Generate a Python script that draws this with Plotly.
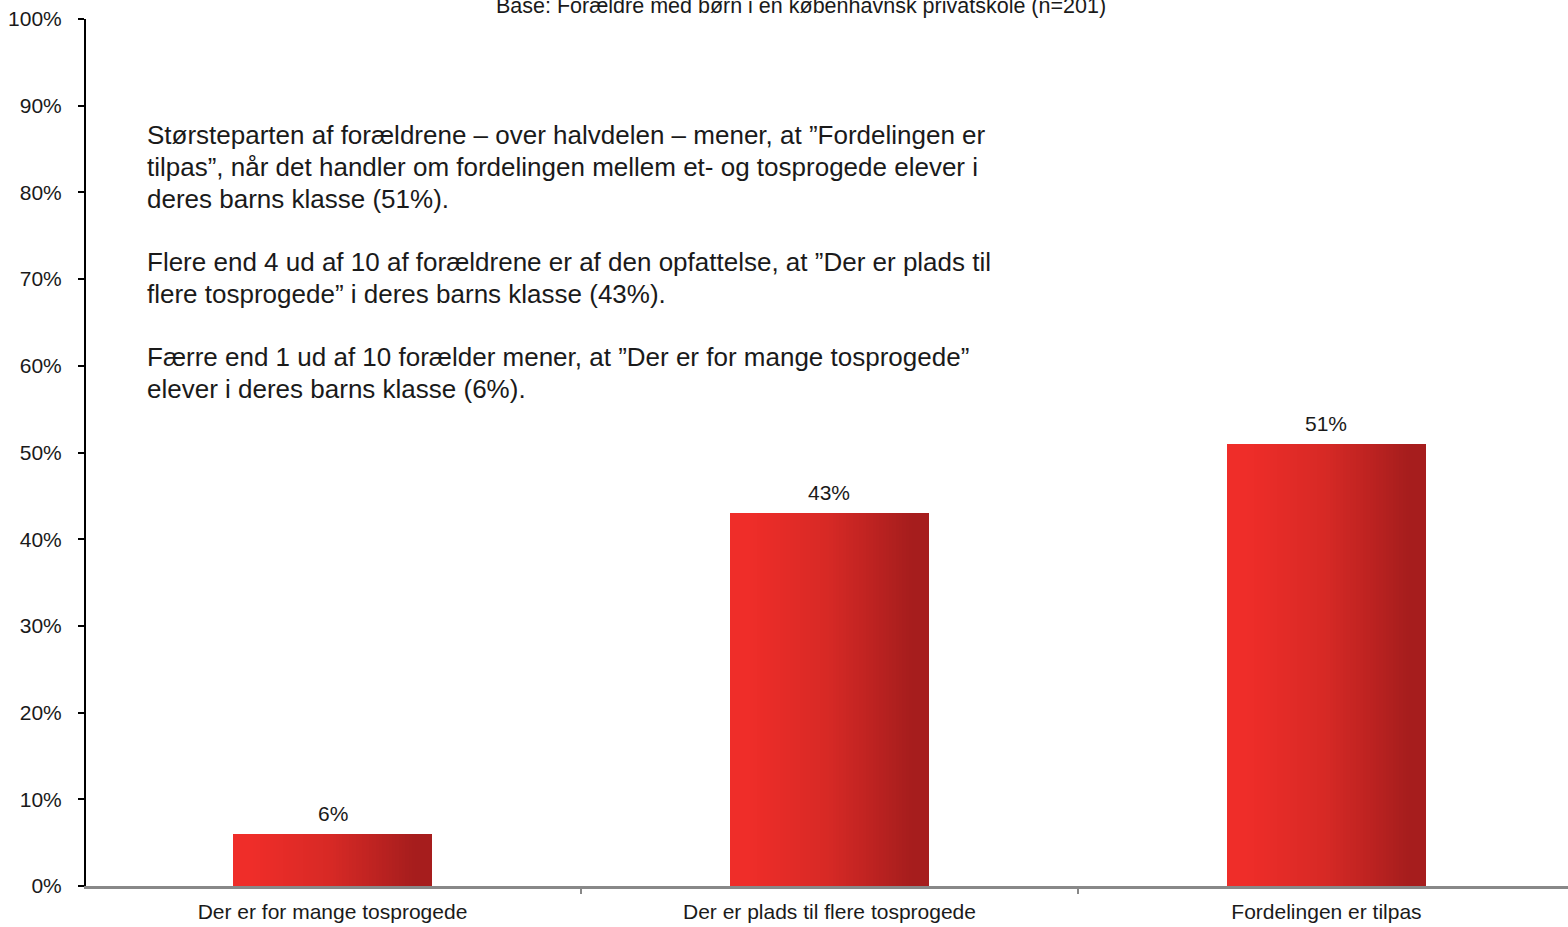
import plotly.graph_objects as go

categories = ["Der er for mange tosprogede", "Der er plads til flere tosprogede", "Fordelingen er tilpas"]
values = [6, 43, 51]
labels = ["6%", "43%", "51%"]
y_ticks = list(range(0, 101, 10))
y_tick_labels = [f"{v}%" for v in y_ticks]
title_text = "Base: Forældre med børn i en københavnsk privatskole (n=201)"
note_lines = [
    "Størsteparten af forældrene – over halvdelen – mener, at ”Fordelingen er",
    "tilpas”, når det handler om fordelingen mellem et- og tosprogede elever i",
    "deres barns klasse (51%).",
    "",
    "Flere end 4 ud af 10 af forældrene er af den opfattelse, at ”Der er plads til",
    "flere tosprogede” i deres barns klasse (43%).",
    "",
    "Færre end 1 ud af 10 forælder mener, at ”Der er for mange tosprogede”",
    "elever i deres barns klasse (6%).",
]

FONT = "Arial, Liberation Sans, sans-serif"
TXT = "#1a1a1a"

# gradient colours (left -> mid -> right)
c_left = (239, 45, 41)
c_mid = (214, 41, 37)
c_right = (166, 29, 29)


def lerp(a, b, t):
    return tuple(round(a[k] + (b[k] - a[k]) * t) for k in range(3))


def grad(t):
    if t < 0.5:
        return lerp(c_left, c_mid, t / 0.5)
    return lerp(c_mid, c_right, (t - 0.5) / 0.5)


fig = go.Figure()
N = 60
bw = 0.4
for i in range(N):
    t = i / (N - 1)
    tt = min(max((t - 0.08) / 0.84, 0), 1)
    r, g, b = grad(tt)
    fig.add_trace(go.Bar(
        x=categories, y=values,
        offset=-bw / 2 + i * bw / N, width=bw - i * bw / N,
        marker=dict(color=f"rgb({r},{g},{b})", line=dict(width=0)),
        showlegend=False, hoverinfo="skip",
    ))

for c, v, lab in zip(categories, values, labels):
    fig.add_annotation(x=c, y=v, text=lab, showarrow=False, yanchor="bottom",
                       yshift=7, font=dict(family=FONT, size=21, color=TXT))

fig.add_annotation(xref="paper", yref="paper", x=0.4825, y=1, yanchor="middle", yshift=13,
                   text=title_text, showarrow=False,
                   font=dict(family=FONT, size=21.5, color=TXT))

# text block, one annotation per line (plot area: top 19px, bottom 886px)
PLOT_TOP, PLOT_BOTTOM = 19, 886
first_center, line_step = 135, 31.75
for k, line in enumerate(note_lines):
    if not line:
        continue
    ypix = first_center + k * line_step
    fig.add_annotation(xref="paper", yref="paper", x=0.0398,
                       y=(PLOT_BOTTOM - ypix) / (PLOT_BOTTOM - PLOT_TOP),
                       xanchor="left", yanchor="middle", align="left",
                       text=line, showarrow=False,
                       font=dict(family=FONT, size=26, color=TXT))

fig.update_layout(
    width=1568, height=927,
    margin=dict(l=86, r=0, t=19, b=41, pad=0),
    plot_bgcolor="white", paper_bgcolor="white",
    barmode="overlay", bargap=0,
    font=dict(family=FONT, size=21, color=TXT),
    showlegend=False,
)
fig.update_xaxes(
    type="category", range=[-0.496, 2.486],
    showline=True, linecolor="#888888", linewidth=3,
    ticks="outside", tickson="boundaries", ticklen=5, tickcolor="#888888", tickwidth=2,
    showgrid=False, zeroline=False,
    tickfont=dict(family=FONT, size=21, color=TXT),
    ticklabelstandoff=5,
)
fig.update_yaxes(
    range=[0, 100], tickvals=y_ticks, ticktext=y_tick_labels,
    showline=True, linecolor="black", linewidth=2,
    ticks="outside", ticklen=6, tickcolor="black", tickwidth=2,
    showgrid=False, zeroline=False,
    tickfont=dict(family=FONT, size=21, color=TXT),
    ticklabelstandoff=12,
)

fig.write_html("out.html", config={"displayModeBar": False},
               post_script="document.body.style.margin='0';document.body.style.overflow='hidden';")
